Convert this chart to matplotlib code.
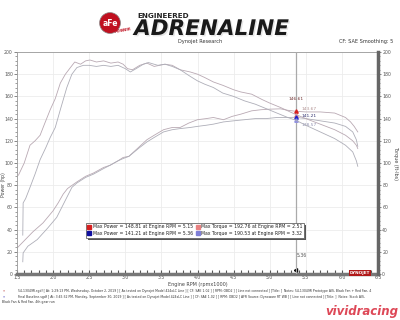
import matplotlib
matplotlib.use('Agg')
import matplotlib.pyplot as plt
from matplotlib.ticker import MultipleLocator
import matplotlib.patheffects as pe

plt.rcParams['font.family'] = ['DejaVu Sans']

# run 1 (red) - torque / power
red_tq_rpm = [1.52, 1.60, 1.68, 1.75, 1.82, 1.88, 1.96, 2.03, 2.10, 2.17, 2.24, 2.30, 2.38, 2.45, 2.51, 2.60,
              2.70, 2.80, 2.90, 2.97, 3.03, 3.10, 3.20, 3.30, 3.40, 3.55, 3.65, 3.76, 3.90, 4.00, 4.10, 4.22,
              4.35, 4.50, 4.60, 4.75, 4.90, 5.00, 5.15, 5.25, 5.36, 5.50, 5.70, 5.90, 6.05, 6.15, 6.20, 6.22]
red_tq = [89, 100, 116, 120, 125, 135, 148, 158, 172, 180, 186, 191, 189, 192, 192.8, 191,
          192, 190, 191, 189, 185, 184, 188, 190, 187, 189, 188, 184, 182, 180, 177, 173,
          170, 166, 164, 162, 157, 154, 150, 147, 143.7, 140, 135, 130, 125, 120, 116, 113]
red_hp_rpm = [1.51, 1.60, 1.72, 1.86, 2.00, 2.07, 2.14, 2.20, 2.33, 2.45, 2.56, 2.70, 2.79, 2.90, 2.97, 3.05,
              3.20, 3.30, 3.40, 3.53, 3.65, 3.76, 3.88, 4.00, 4.12, 4.22, 4.36, 4.48, 4.60, 4.75, 4.88, 5.00,
              5.15, 5.25, 5.36, 5.50, 5.70, 5.90, 6.05, 6.12, 6.17, 6.22]
red_hp = [24, 30, 38, 46, 57, 64, 72, 77, 83, 88, 91, 96, 98, 102, 105, 106,
          115, 121, 125, 130, 132, 132, 136, 139, 140, 141, 139, 142, 144, 147, 148, 148.5,
          148.8, 147.5, 146.6, 146, 146, 145, 141, 137, 133, 128]

# run 2 (blue)
blue_tq_rpm = [1.58, 1.585, 1.62, 1.68, 1.75, 1.82, 1.90, 1.96, 2.03, 2.10, 2.19, 2.26, 2.33, 2.42, 2.50, 2.60,
               2.70, 2.80, 2.90, 3.00, 3.07, 3.15, 3.25, 3.32, 3.45, 3.55, 3.65, 3.76, 3.90, 4.00, 4.10, 4.22,
               4.35, 4.50, 4.65, 4.80, 4.95, 5.10, 5.25, 5.36, 5.50, 5.70, 5.90, 6.05, 6.15, 6.20, 6.22]
blue_tq = [35, 64, 68, 78, 90, 103, 114, 123, 132, 148, 168, 180, 186, 188, 188, 187,
           188, 187, 188, 185, 182, 185, 189, 190.5, 188, 189, 187, 184, 178, 174, 171, 168,
           163, 160, 156, 153, 149, 145, 141, 138.6, 134, 128, 122, 116, 110, 102, 97]
blue_hp_rpm = [1.58, 1.585, 1.65, 1.78, 1.92, 2.05, 2.12, 2.19, 2.26, 2.33, 2.45, 2.56, 2.70, 2.79, 2.90, 2.97,
               3.05, 3.20, 3.30, 3.40, 3.53, 3.65, 3.76, 3.90, 4.00, 4.12, 4.22, 4.36, 4.50, 4.65, 4.80, 4.95,
               5.10, 5.25, 5.36, 5.50, 5.70, 5.90, 6.05, 6.15, 6.20, 6.22]
blue_hp = [11, 19, 25, 31, 41, 51, 60, 69, 78, 82, 87, 90, 95, 98, 102, 104,
           106, 114, 119, 123, 128, 130, 131, 132, 133, 134, 135, 137, 138, 139, 140, 140,
           141, 141, 141.2, 140, 138, 136, 133, 128, 121, 115]

cursor_rpm = 5.36
cursor_vals = [146.61, 143.67, 141.21, 138.57]
cursor_cols = ['#d62020', '#e89090', '#2020c8', '#9090e0']
cursor_txtcol = ['#703030', '#b09090', '#303070', '#9090b0']

legend_power = ['Max Power = 148.81 at Engine RPM = 5.15', 'Max Power = 141.21 at Engine RPM = 5.36']
legend_torque = ['Max Torque = 192.76 at Engine RPM = 2.51', 'Max Torque = 190.53 at Engine RPM = 3.32']

fig = plt.figure(figsize=(4, 3.2), dpi=100)
ax = fig.add_axes([17/400, 1-274/320, 361/400, 222/320])
ax2 = ax.twinx()

line_red = '#b9a9b3'
line_blue = '#aeaeb8'
ax.plot(red_hp_rpm, red_hp, color=line_red, lw=0.6)
ax.plot(blue_hp_rpm, blue_hp, color=line_blue, lw=0.6)
ax2.plot(red_tq_rpm, red_tq, color=line_red, lw=0.6)
ax2.plot(blue_tq_rpm, blue_tq, color=line_blue, lw=0.6)

for a in (ax, ax2):
    a.set_xlim(1.5, 6.5)
    a.set_ylim(0, 200)
    a.yaxis.set_major_locator(MultipleLocator(20))
    a.yaxis.set_minor_locator(MultipleLocator(4))
ax.xaxis.set_major_locator(MultipleLocator(0.5))
ax.xaxis.set_minor_locator(MultipleLocator(0.1))
ax.set_xticklabels(['%.1f' % v for v in ax.get_xticks()])
ax.grid(True, which='major', color='#ececec', lw=0.6)
ax.set_axisbelow(True)

ax.tick_params(axis='both', which='major', labelsize=3.3, length=2, width=0.5, colors='#555555', pad=1)
ax.tick_params(axis='both', which='minor', length=1.2, width=0.4, colors='#555555')
ax.tick_params(axis='x', which='both', direction='in', length=3, width=0.8)
ax2.tick_params(axis='y', which='major', labelsize=3.3, length=2, width=0.5, colors='#555555', pad=1)
ax2.tick_params(axis='y', which='minor', length=1.2, width=0.4, colors='#555555')

for s in ('left', 'top'):
    ax.spines[s].set_color('#999999')
    ax.spines[s].set_linewidth(0.6)
ax.spines['bottom'].set_color('#777777')
ax.spines['bottom'].set_linewidth(2.5)
ax2.spines['right'].set_color('#666666')
ax2.spines['right'].set_linewidth(2.5)
for s in ('left', 'top', 'bottom'):
    ax2.spines[s].set_visible(False)

fig.text(4/400, 1-185/320, 'Power (hp)', fontsize=3.3, color='#444444', rotation=90, ha='center', va='center')
ax2.set_ylabel('Torque (ft-lbs)', fontsize=3.5, color='#444444', rotation=270, labelpad=5)
ax.set_xlabel('Engine RPM (rpmx1000)', fontsize=3.5, color='#444444', labelpad=1)

# cursor
ax.axvline(cursor_rpm, color='#aaaaaa', lw=0.9, zorder=3)
ax.text(cursor_rpm + 0.02, 15, '%.2f' % cursor_rpm, fontsize=3.3, color='#555555')
ax.plot([cursor_rpm], [4], marker=(3, 0, -30), color='black', ms=3)
offs = [(-0.1, 10), (0.08, 4), (0.08, 0), (0.08, -5)]
for v, c, tc, (dx, dy) in zip(cursor_vals, cursor_cols, cursor_txtcol, offs):
    ax.plot([cursor_rpm], [v], marker='^', color=c, ms=2.5, zorder=5)
    ax.text(cursor_rpm + dx, v + dy, '%.2f' % v, fontsize=3.2, color=tc, zorder=6)

# legend box
ax.add_patch(plt.Rectangle((1.5 + (88-17)/72, 31), (305-88)/72, 13.5, transform=ax.transData,
                           fc='#555555', ec='none', zorder=6))
ax.add_patch(plt.Rectangle((1.5 + (86-17)/72, 32.5), (303-86)/72, 13.5, transform=ax.transData,
                           fc='white', ec='#666666', lw=0.6, zorder=7))
sq_cols = ['#d62020', '#1010a0']
sq_cols2 = ['#e88080', '#8080d8']
for i in range(2):
    yv = 42.5 - i * 6
    ax.plot([2.5], [yv], marker='s', color=sq_cols[i], ms=2.6, zorder=8)
    ax.text(2.55, yv, legend_power[i], fontsize=3.3, va='center', color='#222222', zorder=8)
    ax.plot([4.0], [yv], marker='s', color=sq_cols2[i], ms=2.6, zorder=8)
    ax.text(4.05, yv, legend_torque[i], fontsize=3.3, va='center', color='#222222', zorder=8)

# dynojet tag
fig.text(360/400, 1-273/320, 'DYNOJET', fontsize=3, color='white', fontweight='bold', ha='center', va='center',
         bbox=dict(boxstyle='square,pad=0.2', fc='#b01818', ec='none'))

# header
fig.text(110/400, 1-23/320, 'aFe', fontsize=5.5, color='white', fontweight='bold', ha='center', va='center',
         bbox=dict(boxstyle='circle,pad=0.35', fc='#c01020', ec='#888888', lw=0.5))
fig.text(123/400, 1-31/320, 'POWER', fontsize=3, color='#c01020', fontweight='bold', style='italic',
         ha='center', va='center', rotation=10)
fig.text(137/400, 1-16/320, 'ENGINEERED', fontsize=5.2, color='#222222', fontweight='bold', va='center')
fig.text(134/400, 1-29/320, 'ADRENALINE', fontsize=15.5, color='#1a1a1a', fontweight='heavy', style='italic',
         va='center', path_effects=[pe.withSimplePatchShadow(offset=(1, -1), shadow_rgbFace='#aaaaaa')])
fig.text(200/400, 1-41/320, 'Dynojet Research', fontsize=3.6, color='#333333', ha='center', va='center')
fig.text(393/400, 1-41/320, 'CF: SAE Smoothing: 5', fontsize=3.6, color='#333333', ha='right', va='center')

# footer
foot1 = ('54-13049R.sgdf [ At: 1:29:13 PM, Wednesday, October 2, 2019 ] [ As tested on Dynojet Model 424xLC Line ] '
         '[ CF: SAE 1.02 ] [ RPM: OBD2 ] [ Line not connected ] [Title: ]  Notes: 54-13049R Prototype AIS, Black Fan + Red Fan, 4')
foot2 = ('Final Baseline.sgdf [ At: 3:45:32 PM, Monday, September 30, 2019 ] [ As tested on Dynojet Model 424xLC Line ] '
         '[ CF: SAE 1.02 ] [ RPM: OBD2 ] AFR Source: Dynoware RT WB ] [ Line not connected ] [Title: ]  Notes: Stock AIS,')
foot3 = 'Black Fan & Red Fan, 4th gear run'
fig.text(3/400, 1-291/320, '*', fontsize=3, color='#b02020', va='center')
fig.text(3/400, 1-297/320, '*', fontsize=3, color='#2020b0', va='center')
fig.text(18/400, 1-291/320, foot1, fontsize=2.25, color='#333333', va='center')
fig.text(18/400, 1-297/320, foot2, fontsize=2.25, color='#333333', va='center')
fig.text(2/400, 1-302/320, foot3, fontsize=2.25, color='#333333', va='center')
fig.text(398/400, 1-311/320, 'vividracing', fontsize=8.5, color='#d8283a', fontweight='heavy', style='italic',
         ha='right', va='center', alpha=0.85)

fig.savefig('out.png', dpi=100)
